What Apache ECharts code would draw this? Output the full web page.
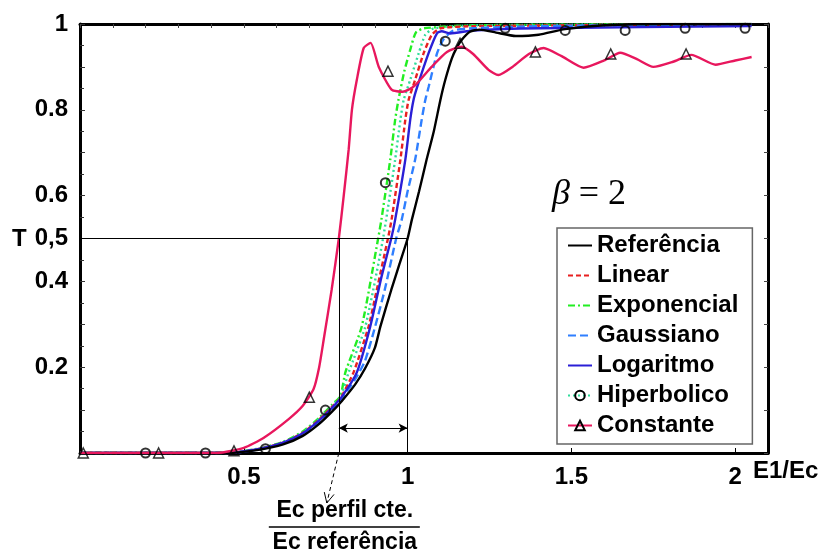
<!DOCTYPE html>
<html><head><meta charset="utf-8">
<script src="https://cdn.jsdelivr.net/npm/echarts@6/dist/echarts.min.js"></script>
<style>html,body{margin:0;padding:0;background:#fff}#c{width:822px;height:556px}</style>
</head><body><div id="c"></div><script>
// ---------- data ----------
const refX = [0,0.45,0.55,0.62,0.68,0.73,0.77,0.80,0.84,0.87,0.90,0.917,0.95,0.975,1.0,1.013,1.035,1.058,1.08,1.10,1.115,1.135,1.15,1.165,1.19,1.22,1.27,1.33,1.40,1.48,1.60,1.80,2.05];
const refY = [0,0,0.008,0.02,0.04,0.068,0.097,0.122,0.16,0.197,0.245,0.295,0.38,0.44,0.5,0.544,0.61,0.684,0.75,0.823,0.87,0.92,0.945,0.963,0.982,0.987,0.98,0.972,0.975,0.988,0.997,1.0,1.0];

const linX = [0,0.45,0.55,0.62,0.68,0.73,0.77,0.795,0.835,0.881,0.90,0.94,0.951,0.978,0.993,1.003,1.023,1.049,1.074,1.10,1.2,2.05];
const linY = [0,0,0.01,0.024,0.047,0.078,0.108,0.128,0.188,0.295,0.36,0.5,0.544,0.684,0.777,0.823,0.87,0.932,0.975,0.99,0.995,1.0];

const expX = [0,0.45,0.55,0.62,0.68,0.73,0.77,0.795,0.81,0.86,0.91,0.92,0.947,0.962,0.972,0.99,1.008,1.025,1.05,1.2,2.05];
const expY = [0,0,0.011,0.026,0.05,0.082,0.113,0.133,0.188,0.295,0.5,0.544,0.684,0.777,0.823,0.89,0.94,0.98,0.99,0.997,1.0];

const gauX = [0,0.45,0.55,0.62,0.68,0.73,0.77,0.80,0.84,0.87,0.901,0.93,0.965,0.982,1.0,1.023,1.043,1.054,1.064,1.09,1.11,1.14,1.2,1.3,1.5,2.05];
const gauY = [0,0,0.009,0.022,0.043,0.072,0.102,0.128,0.172,0.215,0.295,0.38,0.5,0.544,0.61,0.684,0.777,0.823,0.853,0.932,0.965,0.985,0.99,0.993,0.996,1.0];

const logX = [0,0.45,0.55,0.62,0.68,0.73,0.77,0.80,0.845,0.886,0.92,0.95,0.962,0.993,1.008,1.018,1.03,1.064,1.09,1.104,1.13,1.2,1.4,2.05];
const logY = [0,0,0.01,0.024,0.046,0.076,0.106,0.132,0.188,0.295,0.41,0.5,0.544,0.684,0.777,0.823,0.855,0.932,0.979,0.983,0.978,0.985,0.99,0.995];

const hipX = [0,0.45,0.55,0.62,0.68,0.73,0.77,0.795,0.82,0.871,0.925,0.962,0.978,0.988,1.008,1.034,1.054,1.08,1.2,2.05];
const hipY = [0,0,0.01,0.025,0.048,0.08,0.11,0.13,0.188,0.295,0.5,0.684,0.777,0.823,0.87,0.932,0.975,0.99,0.997,1.0];

const conX = [0,0.42,0.5,0.56,0.637,0.68,0.713,0.73,0.744,0.768,0.79,0.805,0.82,0.83,0.845,0.866,0.887,0.912,0.951,0.985,1.02,1.073,1.12,1.165,1.2,1.247,1.277,1.32,1.37,1.415,1.47,1.537,1.6,1.649,1.7,1.75,1.81,1.866,1.94,2.0,2.05];
const conY = [0,0,0.012,0.035,0.079,0.11,0.149,0.2,0.265,0.38,0.5,0.6,0.707,0.8,0.87,0.944,0.956,0.9,0.847,0.842,0.855,0.9,0.935,0.947,0.93,0.893,0.881,0.9,0.93,0.944,0.925,0.898,0.915,0.933,0.918,0.9,0.912,0.928,0.905,0.915,0.923];

// marker positions
const hipMarkX = [0.2,0.383,0.566,0.749,0.932,1.115,1.298,1.481,1.664,1.847,2.03];
const hipMarkY = [0,0,0.01,0.10,0.63,0.96,0.99,0.985,0.985,0.99,0.99];
const conMarkX = [0.01,0.24,0.47,0.70,0.94,1.16,1.39,1.62,1.85];
const conMarkY = [0,0,0.005,0.13,0.89,0.955,0.935,0.93,0.93];

// tick labels
const xTickValues = [0.5,1,1.5,2];
const xTickTexts  = ['0.5','1','1.5','2'];
const yTickValues = [0.2,0.4,0.5,0.6,0.8,1];
const yTickTexts  = ['0.2','0.4','0,5','0.6','0.8','1'];

// annotation values
const annLeftX = 0.79, annRightX = 1.0, annLevel = 0.5, annArrowY = 0.058;

const legendNames = ['Referência','Linear','Exponencial','Gaussiano','Logaritmo','Hiperbolico','Constante'];

// ---------- chart ----------
const FONT = '"Liberation Sans", Arial, sans-serif';
const zip = (xs, ys) => xs.map((x, i) => [x, ys[i]]);
const lookup = (vals, texts) => v => {
  for (let i = 0; i < vals.length; i++) if (Math.abs(vals[i] - v) < 1e-6) return texts[i];
  return '';
};
const lbl = {fontSize: 24, fontWeight: 'bold', color: '#000', fontFamily: FONT};
const frame = {show: true, onZero: false, lineStyle: {color: '#000', width: 3}};

const chart = echarts.init(document.getElementById('c'), null, {renderer: 'canvas'});
// plain line: invisible symbol so the legend icon shows just the (dashed) line
const line = (name, xs, ys, color, type, extra) => Object.assign({
  name, type: 'line', data: zip(xs, ys), symbol: 'circle', showSymbol: false, smooth: 0.2,
  lineStyle: {color, width: 2.4, type}, itemStyle: {color, opacity: 0}, emphasis: {disabled: true}
}, extra || {});

const option = {
  animation: false,
  backgroundColor: '#fff',
  textStyle: {fontFamily: FONT},
  grid: {left: 80, right: 54, top: 24, bottom: 103},
  xAxis: [
    {type: 'value', min: 0, max: 2.1, interval: 0.5, position: 'bottom',
     axisLine: frame, axisTick: {show: true, inside: true, length: 5, lineStyle: {color: '#000'}},
     splitLine: {show: false},
     axisLabel: Object.assign({margin: 12, formatter: lookup(xTickValues, xTickTexts)}, lbl)},
    {type: 'value', min: 0, max: 2.1, interval: 0.1, position: 'top',
     axisLine: frame, axisTick: {show: true, inside: true, length: 4, lineStyle: {color: '#444'}},
     splitLine: {show: false}, axisLabel: {show: false}}
  ],
  yAxis: [
    {type: 'value', min: 0, max: 1, interval: 0.1, position: 'left',
     axisLine: frame, axisTick: {show: true, inside: true, length: 5, lineStyle: {color: '#333'}},
     minorTick: {show: true, splitNumber: 2, length: 4, lineStyle: {color: '#333'}},
     splitLine: {show: false}, minorSplitLine: {show: false},
     axisLabel: Object.assign({margin: 12, formatter: lookup(yTickValues, yTickTexts)}, lbl)},
    {type: 'value', min: 0, max: 1, interval: 0.1, position: 'right',
     axisLine: frame, axisTick: {show: true, inside: true, length: 4, lineStyle: {color: '#444'}},
     splitLine: {show: false}, axisLabel: {show: false}}
  ],
  legend: {
    data: legendNames, orient: 'vertical', left: 557, top: 228,
    padding: [5, 14, 6, 10], itemGap: 5, itemWidth: 24, itemHeight: 12,
    backgroundColor: '#fff', borderColor: '#666', borderWidth: 1.5,
    selectedMode: false,
    textStyle: {fontSize: 24, fontWeight: 'bold', color: '#000', fontFamily: FONT, lineHeight: 25}
  },
  series: [
    line('Exponencial', expX, expY, '#22ee22', [7, 3, 2, 3]),
    line('Hiperbolico', hipX, hipY, '#2fdc9a', [2, 3], {
      symbol: 'circle', symbolSize: 9,
      itemStyle: {color: 'rgba(255,255,255,0)', borderColor: '#000', borderWidth: 2}}),
    line('Linear', linX, linY, '#e82020', [5, 3]),
    line('Gaussiano', gauX, gauY, '#2f7fff', [8, 4]),
    line('Logaritmo', logX, logY, '#2a1fd6', 'solid'),
    line('Referência', refX, refY, '#000000', 'solid', {
      markLine: {
        silent: true, symbol: 'none', animation: false, emphasis: {disabled: true},
        label: {show: false}, lineStyle: {color: '#000', width: 1, type: 'solid'},
        data: [
          [{coord: [0, annLevel]}, {coord: [annRightX, annLevel]}],
          [{coord: [annLeftX, 0]}, {coord: [annLeftX, annLevel]}],
          [{coord: [annRightX, 0]}, {coord: [annRightX, annLevel]}],
          [{coord: [annLeftX, annArrowY], symbol: 'arrow', symbolSize: [7, 9]},
           {coord: [annRightX, annArrowY], symbol: 'arrow', symbolSize: [7, 9]}]
        ]
      }
    }),
    line('Constante', conX, conY, '#e8175d', 'solid', {
      symbol: 'triangle', symbolSize: 10,
      itemStyle: {color: 'rgba(255,255,255,0)', borderColor: '#000', borderWidth: 1.5}}),
    {name: 'hipMarks', type: 'scatter', data: zip(hipMarkX, hipMarkY), symbol: 'circle', symbolSize: 9,
     itemStyle: {color: 'rgba(255,255,255,0)', borderColor: '#000', borderWidth: 2}, z: 5, emphasis: {disabled: true}},
    {name: 'conMarks', type: 'scatter', data: zip(conMarkX, conMarkY), symbol: 'triangle', symbolSize: 10,
     itemStyle: {color: 'rgba(255,255,255,0)', borderColor: '#000', borderWidth: 1.5}, z: 5, emphasis: {disabled: true}}
  ]
};
chart.setOption(option);

// annotations (text + fraction below the axis, anchored to x = annLeftX)
const p = chart.convertToPixel({xAxisIndex: 0, yAxisIndex: 0}, [annLeftX, 0]);
const ax = p[0], ay = p[1];
const ex = ax - 12, ey = ay + 50;
const dx = ex - ax, dy = ey - ay, len = Math.hypot(dx, dy), ux = dx / len, uy = dy / len;
const hx = -uy, hy = ux;
const tip = [ex, ey];
const h1 = [ex - ux * 10 + hx * 5, ey - uy * 10 + hy * 5];
const h2 = [ex - ux * 10 - hx * 5, ey - uy * 10 - hy * 5];
const cx = ax + 6;
chart.setOption({
  graphic: [
    {id: 'tT', type: 'text', left: 12, top: 227, style: {text: 'T', font: 'bold 24px ' + FONT, fill: '#000'}},
    {id: 'tE', type: 'text', left: 753, top: 459, style: {text: 'E1/Ec', font: 'bold 24px ' + FONT, fill: '#000'}},
    {id: 'tB', type: 'text', x: 589, y: 195, style: {
      text: '{b|β} = 2', font: '36px "Liberation Serif", "Times New Roman", serif', fill: '#000',
      align: 'center', verticalAlign: 'middle',
      rich: {b: {fontStyle: 'italic', fontSize: 36, fontFamily: '"Liberation Serif", serif'}}}},
    {id: 'aL', type: 'line', shape: {x1: ax, y1: ay, x2: ex, y2: ey}, style: {stroke: '#000', lineWidth: 1, lineDash: [4, 3]}},
    {id: 'aH', type: 'polyline', shape: {points: [h1, tip, h2]}, style: {stroke: '#000', lineWidth: 1, fill: null}},
    {id: 'f1', type: 'text', x: cx, y: 511, style: {text: 'Ec perfil cte.', font: 'bold 23px ' + FONT, fill: '#000', align: 'center', verticalAlign: 'middle'}},
    {id: 'fL', type: 'line', shape: {x1: cx - 76, y1: 527, x2: cx + 75, y2: 527}, style: {stroke: '#000', lineWidth: 1.5}},
    {id: 'f2', type: 'text', x: cx, y: 543, style: {text: 'Ec referência', font: 'bold 23px ' + FONT, fill: '#000', align: 'center', verticalAlign: 'middle'}}
  ]
});
</script></body></html>
